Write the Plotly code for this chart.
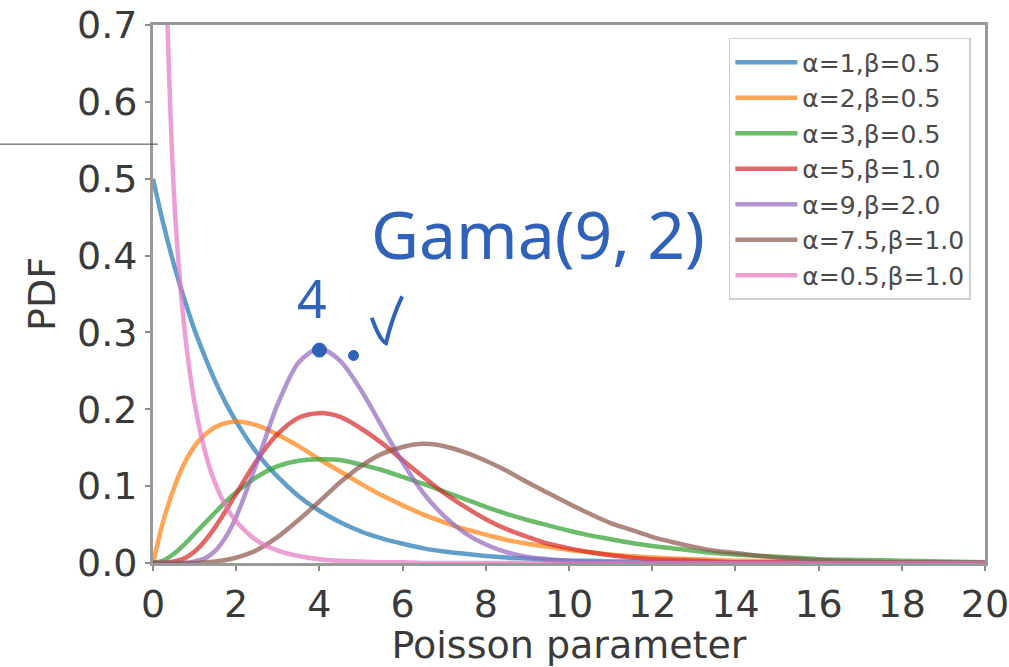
import plotly.graph_objects as go

# Poisson parameter grid (shared by every curve)
poisson_param = [0, 0.25, 0.5, 0.75, 1, 1.25, 1.5, 1.75, 2, 2.5, 3, 3.5, 4, 4.5, 5,
                 5.5, 6, 6.5, 7, 7.5, 8, 8.5, 9, 9.5, 10, 10.5, 11, 11.5, 12, 12.5,
                 13, 13.5, 14, 15, 16, 17, 18, 19, 20]

# Gamma densities
pdf_a1_b05 = [0.500, 0.441, 0.389, 0.344, 0.303, 0.268, 0.236, 0.208, 0.184, 0.143,
              0.112, 0.087, 0.068, 0.053, 0.041, 0.032, 0.025, 0.019, 0.015, 0.012,
              0.009, 0.007, 0.006, 0.004, 0.003, 0.003, 0.002, 0.002, 0.001, 0.001,
              0.001, 0.001, 0.000, 0.000, 0.000, 0.000, 0.000, 0.000, 0.000]
pdf_a2_b05 = [0.000, 0.055, 0.097, 0.129, 0.152, 0.167, 0.177, 0.182, 0.184, 0.179,
              0.167, 0.152, 0.135, 0.119, 0.103, 0.088, 0.075, 0.063, 0.053, 0.044,
              0.037, 0.030, 0.025, 0.021, 0.017, 0.014, 0.011, 0.009, 0.007, 0.006,
              0.005, 0.004, 0.003, 0.002, 0.001, 0.001, 0.001, 0.000, 0.000]
pdf_a3_b05 = [0.000, 0.003, 0.012, 0.024, 0.038, 0.052, 0.066, 0.080, 0.092, 0.112,
              0.126, 0.133, 0.135, 0.134, 0.128, 0.121, 0.112, 0.103, 0.093, 0.083,
              0.073, 0.064, 0.056, 0.049, 0.042, 0.036, 0.031, 0.026, 0.022, 0.019,
              0.016, 0.013, 0.011, 0.008, 0.005, 0.004, 0.003, 0.002, 0.001]
pdf_a5_b1 = [0.000, 0.000, 0.002, 0.006, 0.015, 0.029, 0.047, 0.068, 0.090, 0.134,
             0.168, 0.189, 0.195, 0.190, 0.175, 0.156, 0.134, 0.112, 0.091, 0.073,
             0.057, 0.044, 0.034, 0.025, 0.019, 0.014, 0.010, 0.007, 0.005, 0.004,
             0.003, 0.002, 0.001, 0.001, 0.000, 0.000, 0.000, 0.000, 0.000]
pdf_a9_b2 = [0.000, 0.000, 0.000, 0.000, 0.002, 0.006, 0.016, 0.034, 0.060, 0.131,
             0.207, 0.261, 0.279, 0.263, 0.225, 0.178, 0.131, 0.091, 0.061, 0.039,
             0.024, 0.014, 0.008, 0.005, 0.003, 0.001, 0.001, 0.000, 0.000, 0.000,
             0.000, 0.000, 0.000, 0.000, 0.000, 0.000, 0.000, 0.000, 0.000]
pdf_a75_b1 = [0.000, 0.000, 0.000, 0.000, 0.000, 0.001, 0.002, 0.004, 0.007, 0.017,
              0.034, 0.056, 0.080, 0.105, 0.126, 0.142, 0.151, 0.155, 0.152, 0.144,
              0.133, 0.120, 0.105, 0.091, 0.077, 0.064, 0.052, 0.043, 0.034, 0.027,
              0.021, 0.016, 0.013, 0.007, 0.004, 0.002, 0.001, 0.001, 0.000]
pdf_a05_b1 = [None, 0.879, 0.484, 0.308, 0.208, 0.145, 0.103, 0.074, 0.054, 0.029,
              0.016, 0.009, 0.005, 0.003, 0.002, 0.001, 0.001, 0.000, 0.000, 0.000,
              0.000, 0.000, 0.000, 0.000, 0.000, 0.000, 0.000, 0.000, 0.000, 0.000,
              0.000, 0.000, 0.000, 0.000, 0.000, 0.000, 0.000, 0.000, 0.000]

series_labels = ["α=1,β=0.5", "α=2,β=0.5", "α=3,β=0.5", "α=5,β=1.0",
                 "α=9,β=2.0", "α=7.5,β=1.0", "α=0.5,β=1.0"]
series_values = [pdf_a1_b05, pdf_a2_b05, pdf_a3_b05, pdf_a5_b1,
                 pdf_a9_b2, pdf_a75_b1, pdf_a05_b1]
series_colors = ["#1f77b4", "#ff7f0e", "#2ca02c", "#d62728",
                 "#9467bd", "#8c564b", "#e377c2"]

x_ticks = list(range(0, 21, 2))
y_ticks = [0.0, 0.1, 0.2, 0.3, 0.4, 0.5, 0.6, 0.7]

FONT = "DejaVu Sans"
TEXT_COLOR = "#3a3a3a"
PEN = "#2f62b8"

fig = go.Figure()
for label, vals, color in zip(series_labels, series_values, series_colors):
    fig.add_trace(go.Scatter(
        x=poisson_param, y=vals, name=label, mode="lines",
        line=dict(color=color, width=4.5, shape="spline", smoothing=0.8),
        opacity=0.7,
    ))

axis_common = dict(
    showgrid=False, zeroline=False, showline=True, mirror=True,
    linecolor="#9a9a9a", linewidth=3,
    ticks="outside", ticklen=5, tickwidth=2, tickcolor="#8a8a8a",
    tickfont=dict(family=FONT, size=38, color=TEXT_COLOR),
    ticklabeloverflow="allow", automargin=False,
)

fig.update_layout(
    width=1009, height=667,
    margin=dict(l=153, r=24, t=25, b=104),
    paper_bgcolor="white", plot_bgcolor="white",
    xaxis=dict(range=[0, 20], tickvals=x_ticks,
               title=dict(text="Poisson parameter", standoff=8,
                          font=dict(family=FONT, size=38, color=TEXT_COLOR)),
               **axis_common),
    yaxis=dict(range=[0, 0.7], tickvals=y_ticks, tickformat=".1f",
               title=dict(text="PDF", standoff=10,
                          font=dict(family=FONT, size=38, color=TEXT_COLOR)),
               **axis_common),
    legend=dict(x=0.983, xanchor="right", y=0.976, yanchor="top",
                bgcolor="white", bordercolor="#d0d0d0", borderwidth=1.5,
                font=dict(family=FONT, size=25, color="#4a4a4a"),
                itemwidth=62, entrywidth=250, entrywidthmode="pixels",
                tracegroupgap=0),
    showlegend=True,
)

# thin rule crossing the left margin
fig.add_shape(type="line", xref="paper", yref="y",
              x0=-0.184, x1=0.006, y0=0.545, y1=0.545,
              line=dict(color="#444444", width=1))

# handwritten note on the α=9, β=2 peak
fig.add_annotation(x=9.25, y=0.43, xref="x", yref="y", text="Gama(9, 2)",
                   showarrow=False,
                   font=dict(family="Noto Sans", size=66, color=PEN))
fig.add_annotation(x=3.82, y=0.345, xref="x", yref="y", text="4",
                   showarrow=False,
                   font=dict(family="Noto Sans", size=52, color=PEN))
fig.add_shape(type="path", xref="x", yref="y",
              path="M 5.26 0.319 Q 5.45 0.29 5.60 0.286 Q 5.75 0.32 5.99 0.347",
              line=dict(color=PEN, width=4))
for cx, cy, r in [(4.0, 0.277, 7), (4.82, 0.270, 5)]:
    fig.add_shape(type="circle", xref="x", yref="y",
                  xsizemode="pixel", ysizemode="pixel",
                  xanchor=cx, yanchor=cy, x0=-r, x1=r, y0=-r, y1=r,
                  fillcolor=PEN, line=dict(color=PEN, width=1))

fig.write_html("out.html")
